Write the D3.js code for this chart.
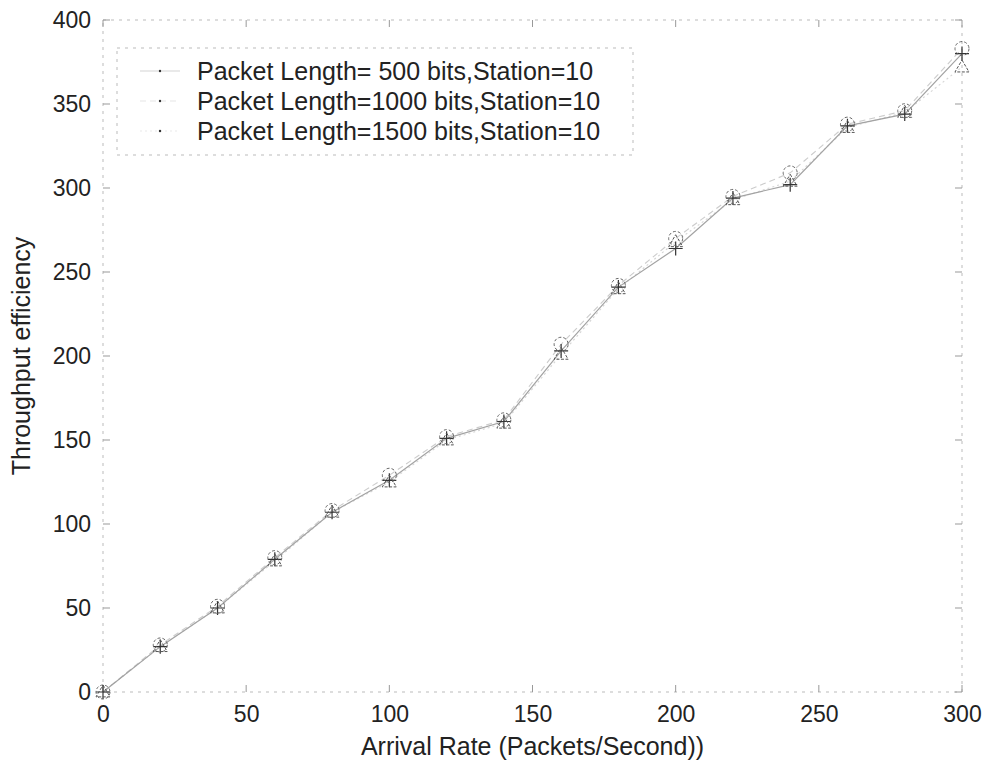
<!DOCTYPE html>
<html>
<head>
<meta charset="utf-8">
<script src="https://cdn.jsdelivr.net/npm/d3@7"></script>
<style>
  body { margin: 0; background: #fff; }
  svg { display: block; }
  text { font-family: "Liberation Sans", Arial, sans-serif; fill: #222; }
</style>
</head>
<body>
<svg id="chart" width="989" height="765"></svg>
<script>
// Arrival rate (packets/second) at which throughput was measured
const arrivalRate = [0, 20, 40, 60, 80, 100, 120, 140, 160, 180, 200, 220, 240, 260, 280, 300];

// Throughput efficiency per packet length (10 stations)
const pl500  = [0, 27, 50, 79, 107, 126, 151, 161, 203, 241, 264, 294, 302, 337, 344, 380];
const pl1000 = [0, 28, 51, 80, 108, 129, 152, 162, 207, 242, 270, 295, 309, 338, 346, 383];
const pl1500 = [0, 27, 50, 78, 107, 125, 150, 160, 201, 240, 268, 293, 304, 336, 345, 372];

const seriesNames = [
  "Packet Length= 500 bits,Station=10",
  "Packet Length=1000 bits,Station=10",
  "Packet Length=1500 bits,Station=10"
];

const xTicks = [0, 50, 100, 150, 200, 250, 300];
const yTicks = [0, 50, 100, 150, 200, 250, 300, 350, 400];

const xTitle = "Arrival Rate (Packets/Second))";
const yTitle = "Throughput efficiency";

const series = [
  { name: seriesNames[0], values: pl500,  marker: "plus",     line: { stroke: "#555", dash: null,  width: 1.2, opacity: 0.55 } },
  { name: seriesNames[1], values: pl1000, marker: "circle",   line: { stroke: "#999", dash: "6,4", width: 1.1, opacity: 0.5 } },
  { name: seriesNames[2], values: pl1500, marker: "triangle", line: { stroke: "#aaa", dash: "2,3", width: 1.1, opacity: 0.5 } }
];

const svg = d3.select("#chart");
const plotLeft = 103, plotRight = 962, plotTop = 20, plotBottom = 692;
const labelFont = "23px", titleFont = "25px";

const x = d3.scaleLinear().domain([0, 300]).range([plotLeft, plotRight]);
const y = d3.scaleLinear().domain([0, 400]).range([plotBottom, plotTop]);

// Axes frame: faint, broken stroke
svg.append("rect")
  .attr("x", plotLeft).attr("y", plotTop)
  .attr("width", plotRight - plotLeft).attr("height", plotBottom - plotTop)
  .attr("fill", "none").attr("stroke", "#bbb").attr("stroke-width", 1)
  .attr("stroke-dasharray", "3,5");

// Inward ticks on all four sides
const tickLen = 7;
const tickG = svg.append("g").attr("stroke", "#999").attr("stroke-width", 1);
xTicks.forEach(t => {
  tickG.append("line").attr("x1", x(t)).attr("x2", x(t)).attr("y1", plotBottom).attr("y2", plotBottom - tickLen);
  tickG.append("line").attr("x1", x(t)).attr("x2", x(t)).attr("y1", plotTop).attr("y2", plotTop + tickLen);
});
yTicks.forEach(t => {
  tickG.append("line").attr("x1", plotLeft).attr("x2", plotLeft + tickLen).attr("y1", y(t)).attr("y2", y(t));
  tickG.append("line").attr("x1", plotRight).attr("x2", plotRight - tickLen).attr("y1", y(t)).attr("y2", y(t));
});

// Tick labels via d3 axes (domain and tick lines hidden)
const xAxis = svg.append("g")
  .attr("transform", `translate(0,${plotBottom})`)
  .call(d3.axisBottom(x).tickValues(xTicks).tickSize(0).tickPadding(14));
const yAxis = svg.append("g")
  .attr("transform", `translate(${plotLeft},0)`)
  .call(d3.axisLeft(y).tickValues(yTicks).tickSize(0).tickPadding(12));
[xAxis, yAxis].forEach(a => {
  a.select(".domain").remove();
  a.selectAll("text").style("font-size", labelFont).style("font-family", "\"Liberation Sans\", Arial, sans-serif").attr("fill", "#222");
});

// Axis titles
svg.append("text")
  .attr("x", (plotLeft + plotRight) / 2).attr("y", 755)
  .attr("text-anchor", "middle").style("font-size", titleFont)
  .text(xTitle);
svg.append("text")
  .attr("transform", `translate(30,${(plotTop + plotBottom) / 2}) rotate(-90)`)
  .attr("text-anchor", "middle").style("font-size", titleFont)
  .text(yTitle);

// Series lines
const lineGen = d3.line().x((d, i) => x(arrivalRate[i])).y(d => y(d));
series.forEach(s => {
  svg.append("path")
    .datum(s.values)
    .attr("d", lineGen)
    .attr("fill", "none")
    .attr("stroke", s.line.stroke)
    .attr("stroke-width", s.line.width)
    .attr("stroke-opacity", s.line.opacity)
    .attr("stroke-dasharray", s.line.dash);
});

// Markers
function drawMarker(g, kind, cx, cy) {
  const r = 7;
  if (kind === "plus") {
    g.append("path")
      .attr("d", `M${cx - r},${cy}H${cx + r}M${cx},${cy - r}V${cy + r}`)
      .attr("stroke", "#333").attr("stroke-width", 1.2).attr("fill", "none");
  } else if (kind === "circle") {
    g.append("circle").attr("cx", cx).attr("cy", cy).attr("r", r)
      .attr("stroke", "#666").attr("stroke-width", 1).attr("fill", "none")
      .attr("stroke-dasharray", "3,2");
  } else {
    g.append("path")
      .attr("d", `M${cx},${cy - r}L${cx + r},${cy + r * 0.7}L${cx - r},${cy + r * 0.7}Z`)
      .attr("stroke", "#555").attr("stroke-width", 1).attr("fill", "none")
      .attr("stroke-dasharray", "3,1.5");
  }
}
series.forEach(s => {
  const g = svg.append("g");
  s.values.forEach((v, i) => drawMarker(g, s.marker, x(arrivalRate[i]), y(v)));
});

// Legend
const legend = svg.append("g");
legend.append("rect")
  .attr("x", 117).attr("y", 48).attr("width", 516).attr("height", 107)
  .attr("fill", "#fff").attr("stroke", "#bbb").attr("stroke-width", 1)
  .attr("stroke-dasharray", "3,5");
const legendRows = [71, 101, 131];
series.forEach((s, i) => {
  const ly = legendRows[i];
  legend.append("line")
    .attr("x1", 140).attr("x2", 180).attr("y1", ly).attr("y2", ly)
    .attr("stroke", s.line.stroke).attr("stroke-width", s.line.width)
    .attr("stroke-opacity", 0.25)
    .attr("stroke-dasharray", s.line.dash);
  legend.append("circle").attr("cx", 160).attr("cy", ly).attr("r", 1.2).attr("fill", "#333");
  legend.append("text")
    .attr("x", 197).attr("y", ly).attr("dy", "0.35em")
    .style("font-size", titleFont)
    .text(s.name);
});
</script>
</body>
</html>
